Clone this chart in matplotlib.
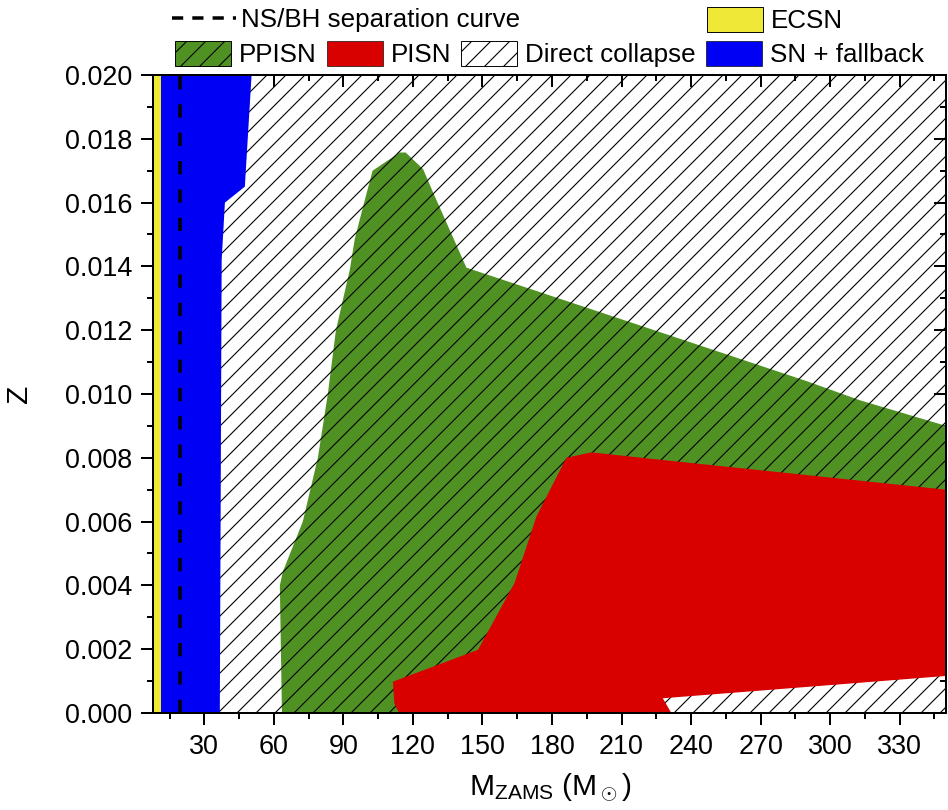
import numpy as np
import matplotlib
matplotlib.use('Agg')
import matplotlib.pyplot as plt
from matplotlib.patches import Patch
from matplotlib.lines import Line2D
from matplotlib.ticker import MultipleLocator, FormatStrFormatter

DPI = 114
def pt(px):
    # pixel size -> points at this dpi
    return px * 72.0 / DPI

# ---- data (M_ZAMS in Msun, Z) ----
x_min, x_max = 8, 350
z_min, z_max = 0.0, 0.020

ecsn_m = [8, 11.3]
nsbh_m = 19.5

sn_fb_m = [11.3, 36.7, 37.5, 38.9, 47.5, 50.4, 11.3]
sn_fb_z = [0.0, 0.0, 0.0142, 0.0160, 0.0165, 0.020, 0.020]

ppisn_m = [63.5, 62.6, 63.9, 72.5, 79.0, 83.3, 86.8, 92.8, 94.9, 98.6, 102.6,
           114.3, 116.9, 124.4, 128.7, 143.1, 220, 290, 313, 350, 350, 226, 200]
ppisn_z = [0.0, 0.0040, 0.00443, 0.0060, 0.0080, 0.0100, 0.0120, 0.0139, 0.01485,
           0.0159, 0.0170, 0.01757, 0.01757, 0.01705, 0.01632, 0.01396, 0.0121,
           0.0104, 0.0098, 0.0090, 0.0030, 0.0020, 0.0]

pisn_m = [111.4, 148.1, 163.9, 173.3, 186.2, 197.0, 226.4, 350, 350,
          227.8, 231.5, 114, 112]
pisn_z = [0.00098, 0.00198, 0.00408, 0.00616, 0.0080, 0.00817, 0.00794, 0.0070,
          0.00116, 0.00046, 0.0, 0.0, 0.0003]

green = '#4f9123'
red = '#d90000'
blue = '#0000f5'
yellow = '#f0e836'

plt.rcParams['font.family'] = ['Liberation Sans', 'DejaVu Sans']
plt.rcParams['mathtext.fontset'] = 'custom'
plt.rcParams['mathtext.rm'] = 'Liberation Sans'
plt.rcParams['mathtext.it'] = 'Liberation Sans:italic'
plt.rcParams['hatch.linewidth'] = 0.7

fig = plt.figure(figsize=(948 / DPI, 810 / DPI), dpi=DPI)
ax = fig.add_axes([0.1617, 0.1198, 0.8362, 0.7876])

# direct collapse = hatched background
ax.axvspan(x_min, x_max, facecolor='white', edgecolor='black', hatch='//', lw=0, zorder=0)
ax.fill(ppisn_m, ppisn_z, facecolor=green, edgecolor='black', hatch='//', lw=0, zorder=1)
ax.fill(pisn_m, pisn_z, color=red, lw=0, zorder=2)
ax.fill(sn_fb_m, sn_fb_z, color=blue, lw=0, zorder=2)
ax.axvspan(ecsn_m[0], ecsn_m[1], color=yellow, lw=0, zorder=3)
ax.axvline(nsbh_m, color='black', lw=pt(3.5), dashes=(3.8, 4.3), zorder=4)

ax.set_xlim(x_min, x_max)
ax.set_ylim(z_min, z_max)

ax.xaxis.set_major_locator(MultipleLocator(30))
ax.xaxis.set_minor_locator(MultipleLocator(15))
ax.yaxis.set_major_locator(MultipleLocator(0.002))
ax.yaxis.set_minor_locator(MultipleLocator(0.001))
ax.yaxis.set_major_formatter(FormatStrFormatter('%.3f'))

fs_tick = pt(27)
ax.tick_params(which='both', direction='out', width=pt(2), labelsize=fs_tick, pad=pt(9))
ax.tick_params(which='major', length=pt(12))
ax.tick_params(which='minor', length=pt(6))
for s in ax.spines.values():
    s.set_linewidth(pt(2))
    s.set_zorder(5)

# inward ticks on top and right
top = ax.secondary_xaxis('top')
top.xaxis.set_major_locator(MultipleLocator(30))
top.xaxis.set_minor_locator(MultipleLocator(15))
top.tick_params(which='both', direction='in', width=pt(2), labeltop=False)
top.tick_params(which='major', length=pt(12))
top.tick_params(which='minor', length=pt(6))
right = ax.secondary_yaxis('right')
right.yaxis.set_major_locator(MultipleLocator(0.002))
right.yaxis.set_minor_locator(MultipleLocator(0.001))
right.tick_params(which='both', direction='in', width=pt(2), labelright=False)
right.tick_params(which='major', length=pt(12))
right.tick_params(which='minor', length=pt(6))
for sec in (top, right):
    for s in sec.spines.values():
        s.set_linewidth(pt(2))

ax.set_xlabel(r'M$_{\rm ZAMS}$ (M$_\odot$)', fontsize=pt(30))
ax.xaxis.set_label_coords(0.5, -0.092)
ax.set_ylabel('Z', fontsize=pt(30))
ax.yaxis.set_label_coords(-0.152, 0.5)

# ---- legends ----
em = 26.0
fs_leg = pt(em)
row2 = [Patch(facecolor=green, edgecolor='black', hatch='//', lw=0.6),
        Patch(facecolor=red, edgecolor='black', lw=0.4),
        Patch(facecolor='white', edgecolor='black', hatch='//', lw=0.6),
        Patch(facecolor=blue, edgecolor='black', lw=0.4)]
fig.legend(row2, ['PPISN', 'PISN', 'Direct collapse', 'SN + fallback'],
           loc='center left', bbox_to_anchor=(175 / 948, 1 - 54 / 810), ncol=4,
           frameon=False, fontsize=fs_leg, handlelength=56 / em, handleheight=28 / em,
           handletextpad=8 / em, columnspacing=10 / em, borderaxespad=0, borderpad=0)
fig.legend([Line2D([], [], color='black', lw=pt(3.5), dashes=(3.2, 2.6))],
           ['NS/BH separation curve'],
           loc='center left', bbox_to_anchor=(172 / 948, 1 - 20 / 810),
           frameon=False, fontsize=fs_leg, handlelength=64 / em,
           handletextpad=5 / em, borderaxespad=0, borderpad=0)
fig.legend([Patch(facecolor=yellow, edgecolor='black', lw=0.6)], ['ECSN'],
           loc='center left', bbox_to_anchor=(707 / 948, 1 - 20 / 810),
           frameon=False, fontsize=fs_leg, handlelength=56 / em, handleheight=28 / em,
           handletextpad=8 / em, borderaxespad=0, borderpad=0)

fig.savefig('out.png', dpi=DPI)
